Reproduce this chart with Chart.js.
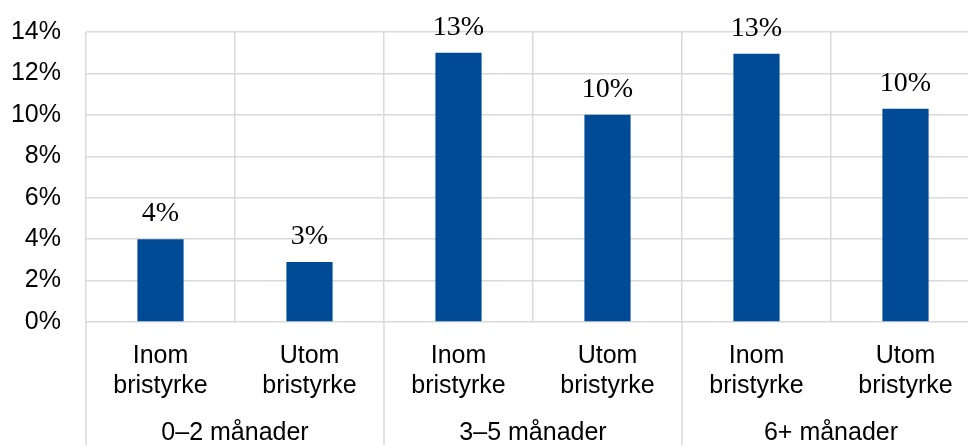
<!DOCTYPE html>
<html>
<head>
<meta charset="utf-8">
<script src="https://cdn.jsdelivr.net/npm/chart.js@4"></script>
<style>
  html, body { margin: 0; padding: 0; overflow: hidden; background: #fff; }
  #wrap { width: 980px; height: 445px; }
</style>
</head>
<body>
<div id="wrap"><canvas id="chart"></canvas></div>
<script>
const categories = [['Inom', 'bristyrke'], ['Utom', 'bristyrke'], ['Inom', 'bristyrke'], ['Utom', 'bristyrke'], ['Inom', 'bristyrke'], ['Utom', 'bristyrke']];
const groups = ['0–2 månader', '3–5 månader', '6+ månader'];
const shares = [4.0, 2.9, 13.0, 10.0, 12.95, 10.3];
const yTicks = [0, 2, 4, 6, 8, 10, 12, 14];

const gridColor = '#d9d9d9';
const sans = 'Arial, "Liberation Sans", sans-serif';

// value labels above the bars
const barLabels = {
    id: 'barLabels',
    afterDatasetsDraw(chart) {
        const ctx = chart.ctx;
        const meta = chart.getDatasetMeta(0);
        ctx.save();
        ctx.font = '28px "Times New Roman", "Liberation Serif", serif';
        ctx.fillStyle = '#000';
        ctx.textAlign = 'center';
        ctx.textBaseline = 'alphabetic';
        meta.data.forEach((bar, i) => {
            ctx.fillText(Math.round(shares[i]) + '%', bar.x, bar.y - 18);
        });
        ctx.restore();
    }
};

// group separators running down through the label area
const groupLines = {
    id: 'groupLines',
    afterDraw(chart) {
        const ctx = chart.ctx;
        const x2 = chart.scales.x2;
        const step = x2.width / groups.length;
        ctx.save();
        ctx.strokeStyle = gridColor;
        ctx.lineWidth = 1.5;
        for (let i = 0; i <= groups.length; i++) {
            const px = x2.left + i * step;
            ctx.beginPath();
            ctx.moveTo(px, chart.chartArea.bottom);
            ctx.lineTo(px, chart.height);
            ctx.stroke();
        }
        ctx.restore();
    }
};

new Chart(document.getElementById('chart'), {
    type: 'bar',
    data: {
        labels: categories,
        datasets: [{
            data: shares,
            backgroundColor: '#004a96',
            categoryPercentage: 1,
            barPercentage: 0.31
        }]
    },
    options: {
        responsive: true,
        maintainAspectRatio: false,
        animation: false,
        layout: { padding: { top: 32, right: 0, bottom: 0, left: 0 } },
        plugins: {
            legend: { display: false },
            tooltip: { enabled: false }
        },
        scales: {
            y: {
                min: 0,
                max: 14,
                afterBuildTicks(scale) {
                    scale.ticks = yTicks.map(v => ({ value: v }));
                },
                grid: { color: gridColor, lineWidth: 1.5, drawTicks: false },
                border: { display: false },
                ticks: {
                    padding: 25,
                    color: '#000',
                    font: { family: sans, size: 25 },
                    callback: v => v + '%'
                },
                afterFit(scale) {
                    scale.width = 86;
                    scale.paddingTop = 0;
                }
            },
            x: {
                grid: { color: gridColor, lineWidth: 1.5, drawTicks: false, offset: true },
                border: { display: false },
                ticks: {
                    padding: 19,
                    color: '#000',
                    maxRotation: 0,
                    font: { family: sans, size: 25, lineHeight: 1.2 }
                },
                afterFit(scale) { scale.height = 80; }
            },
            x2: {
                type: 'category',
                position: 'bottom',
                labels: groups,
                offset: true,
                grid: { display: false },
                border: { display: false },
                ticks: {
                    padding: 8,
                    color: '#000',
                    maxRotation: 0,
                    font: { family: sans, size: 25, lineHeight: 1.2 }
                },
                afterFit(scale) { scale.height = 43; }
            }
        }
    },
    plugins: [barLabels, groupLines]
});
</script>
</body>
</html>
